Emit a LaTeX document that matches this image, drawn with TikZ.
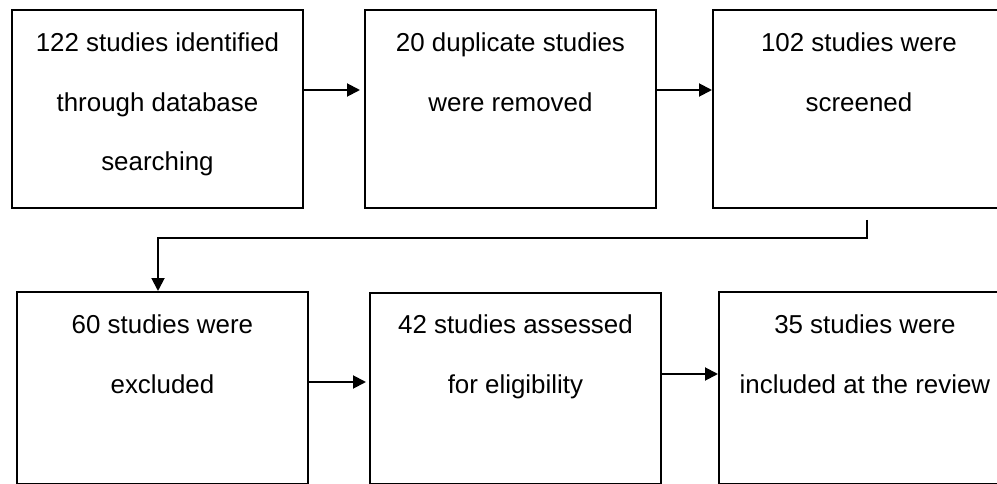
\documentclass[tikz,border=0pt]{standalone}
\usepackage{fontspec}
\setmainfont{Liberation Sans}
\usetikzlibrary{arrows.meta,calc}
\begin{document}
\begin{tikzpicture}[x=1pt,y=-1pt,
  stagebox/.style={draw=black,line width=1.9pt,fill=white,inner sep=0pt,anchor=north west},
  boxtext/.style={inner sep=0pt,anchor=north,align=center,font=\fontsize{25.9}{59.5}\selectfont},
  arr/.style={line width=1.9pt,-{Triangle[length=13pt,width=13pt]}}]
\clip (0,0) rectangle (997,484);
\fill[white] (0,0) rectangle (997,484);
% boxes
\node[stagebox,minimum width=291pt,minimum height=198pt] (b1) at (11,9) {};
\node[stagebox,minimum width=291pt,minimum height=198pt] (b2) at (364,9) {};
\node[stagebox,minimum width=292pt,minimum height=198pt] (b3) at (712,9) {};
\node[stagebox,minimum width=291pt,minimum height=192pt] (b4) at (16,291) {};
\node[stagebox,minimum width=291pt,minimum height=191pt] (b5) at (369,292) {};
\node[stagebox,minimum width=292pt,minimum height=192pt] (b6) at (718,291) {};
% texts
\node[boxtext] (t1) at ([yshift=-24]b1.north) {122 studies identified\\through database\\searching};
\node[boxtext] (t2) at ([yshift=-24]b2.north) {20 duplicate studies\\were removed};
\node[boxtext] (t3) at ([yshift=-24]b3.north) {102 studies were\\screened};
\node[boxtext] (t4) at ([yshift=-24]b4.north) {60 studies were\\excluded};
\node[boxtext] (t5) at ([yshift=-23]b5.north) {42 studies assessed\\for eligibility};
\node[boxtext] (t6) at ([yshift=-24]b6.north) {35 studies were\\included at the review};
% connectors
\coordinate (c1) at (867,220);
\draw[arr] (b1.east |- 0,90) -- ([xshift=-4]b2.west |- 0,90);
\draw[arr] (b2.east |- 0,90) -- (b3.west |- 0,90);
\draw[arr] (c1) -- (867,238) -- (158,238) -- (b4.north -| 158,0);
\draw[arr] (b4.east |- 0,382) -- ([xshift=-3]b5.west |- 0,382);
\draw[arr] (b5.east |- 0,374) -- (b6.west |- 0,374);
\end{tikzpicture}
\end{document}
